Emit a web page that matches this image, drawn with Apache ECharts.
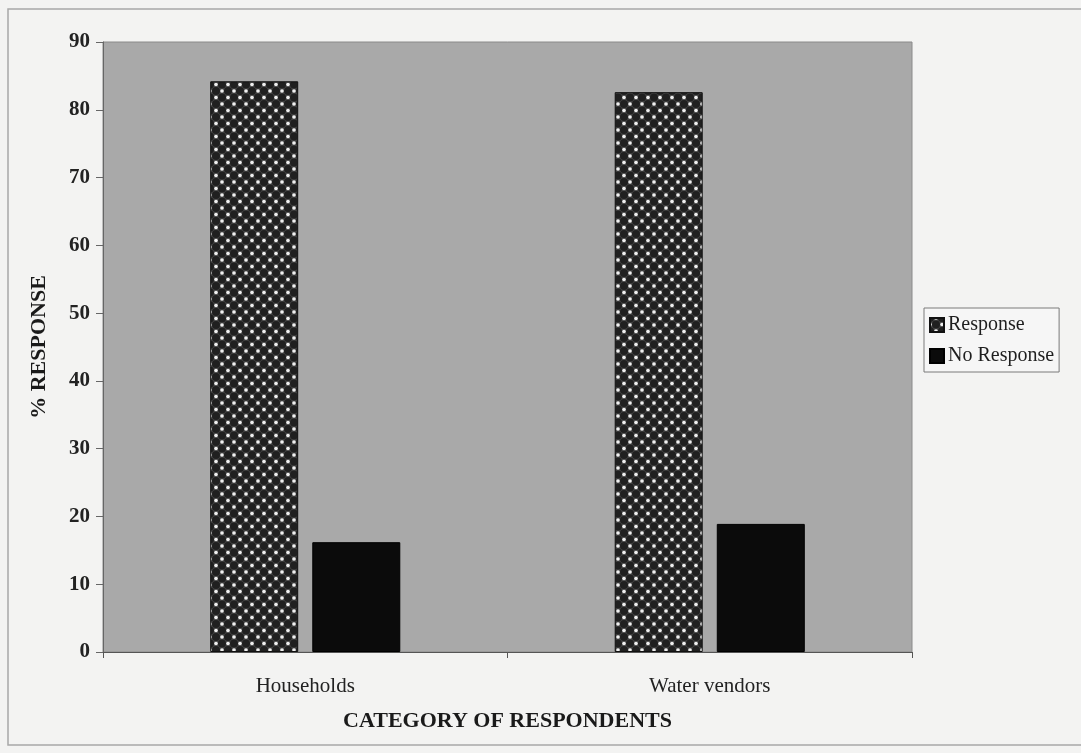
<!DOCTYPE html>
<html>
<head>
<meta charset="utf-8">
<script src="https://cdn.jsdelivr.net/npm/echarts@6/dist/echarts.min.js"></script>
<style>
  html, body { margin: 0; padding: 0; background: #f3f3f2; }
  #chart { width: 1081px; height: 753px; }
</style>
</head>
<body>
<div id="chart"></div>
<script>
// Survey response rates by category of respondent
const categories = ['Households', 'Water vendors'];
const seriesNames = ['Response', 'No Response'];
const responseValues = [84.2, 82.6];
const noResponseValues = [16.2, 18.9];
const yTicks = { min: 0, max: 90, interval: 10 };

// Dotted fill used for the "Response" bars
function makeDotPattern() {
  const c = document.createElement('canvas');
  c.width = 12; c.height = 13;
  const g = c.getContext('2d');
  g.fillStyle = '#4a4a4a';
  g.fillRect(0, 0, 12, 13);
  g.fillStyle = '#202020';
  [[0, 0], [12, 0], [0, 13], [12, 13], [6, 6.5]].forEach(([x, y]) => {
    g.beginPath(); g.arc(x, y, 4, 0, Math.PI * 2); g.fill();
  });
  g.fillStyle = '#f0f0f0';
  [[6, 0], [0, 6.5], [12, 6.5], [6, 13]].forEach(([x, y]) => {
    g.beginPath(); g.arc(x, y, 1.8, 0, Math.PI * 2); g.fill();
  });
  return c;
}

const chart = echarts.init(document.getElementById('chart'), null, { renderer: 'canvas' });
const serif = '"Liberation Serif", "Times New Roman", serif';

chart.setOption({
  backgroundColor: '#f3f3f2',
  animation: false,
  graphic: [{
    type: 'rect',
    shape: { x: 8, y: 9, width: 1090, height: 736 },
    style: { fill: 'none', stroke: '#a8a8a8', lineWidth: 1.5 },
    z: -1
  }],
  grid: {
    left: 103, right: 169, top: 42, bottom: 101,
    show: true,
    backgroundColor: '#a9a9a9',
    borderColor: '#8a8a8a',
    borderWidth: 1
  },
  legend: {
    orient: 'vertical',
    left: 924, top: 308,
    itemWidth: 14, itemHeight: 14,
    itemGap: 11,
    padding: [7, 5, 6, 5],
    backgroundColor: '#f6f6f6',
    borderColor: '#7a7a7a',
    borderWidth: 1,
    textStyle: { fontFamily: serif, fontSize: 20, color: '#1e1e1e', padding: [0, 0, 0, -1] },
    data: seriesNames.map(n => ({ name: n, icon: 'rect' }))
  },
  xAxis: {
    type: 'category',
    data: categories,
    name: 'CATEGORY OF RESPONDENTS',
    nameLocation: 'middle',
    nameGap: 58,
    nameTextStyle: { fontFamily: serif, fontSize: 22, fontWeight: 'bold', color: '#1a1a1a' },
    axisLine: { lineStyle: { color: '#555', width: 1 } },
    axisTick: { show: true, length: 6, alignWithLabel: false, lineStyle: { color: '#555' } },
    axisLabel: { fontFamily: serif, fontSize: 21, color: '#222', margin: 24 }
  },
  yAxis: {
    type: 'value',
    min: yTicks.min, max: yTicks.max, interval: yTicks.interval,
    name: '% RESPONSE',
    nameLocation: 'middle',
    nameGap: 53,
    nameRotate: 90,
    nameTextStyle: { fontFamily: serif, fontSize: 22, fontWeight: 'bold', color: '#1a1a1a' },
    axisLine: { show: true, lineStyle: { color: '#666', width: 1 } },
    axisTick: { show: true, length: 7, lineStyle: { color: '#666' } },
    splitLine: { show: false },
    axisLabel: { fontFamily: serif, fontSize: 21, fontWeight: 'bold', color: '#222', margin: 13 }
  },
  series: [
    {
      name: seriesNames[0],
      type: 'bar',
      data: responseValues,
      barWidth: 88,
      barGap: '16%',
      itemStyle: {
        color: { image: makeDotPattern(), repeat: 'repeat' },
        borderColor: '#111',
        borderWidth: 1
      }
    },
    {
      name: seriesNames[1],
      type: 'bar',
      data: noResponseValues,
      barWidth: 88,
      itemStyle: { color: '#0b0b0b', borderColor: '#000', borderWidth: 1 }
    }
  ]
});
</script>
</body>
</html>
